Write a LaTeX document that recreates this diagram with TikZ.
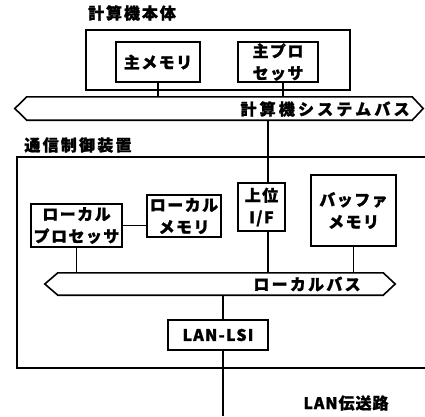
\documentclass[tikz,border=0pt]{standalone}
\usepackage{fontspec}
\newfontfamily\jp[FakeBold=1.2]{Noto Sans CJK JP}
\newcommand\jpfont[1]{\jp\bfseries\fontsize{16}{22}\selectfont\addfontfeature{LetterSpace=#1}}
\tikzset{
  box/.style={draw, line width=1.6pt, inner sep=0pt, align=center, font=\jpfont{9}},
  lbl/.style={inner sep=0pt, font=\jpfont{12}},
  wire/.style={line width=1.6pt},
  busline/.style={line width=1.6pt, line join=miter},
  busarea/.style={inner sep=0pt}
}
\begin{document}
\begin{tikzpicture}[x=1pt,y=-1pt]
\useasboundingbox[fill=white] (0,0) rectangle (425,416);
% computer body
\node[lbl] (bodylbl) at (132,13) {計算機本体};
\node[draw, line width=1.6pt, minimum width=264pt, minimum height=60pt] (body) at (218,60) {};
\node[box, minimum width=84pt, minimum height=40pt] (mem) at (158,62) {主メモリ};
\node[box, minimum width=80pt, minimum height=40pt] (proc) at (278,62) {主プロ\\セッサ};
% system bus
\node[busarea, minimum width=385pt, minimum height=23pt] (sysbus) at (219.5,108.5) {};
\draw[busline] (sysbus.north west) -- (sysbus.north east) -- ([xshift=11pt]sysbus.east)
  -- (sysbus.south east) -- (sysbus.south west) -- ([xshift=-12pt]sysbus.west) -- cycle;
\node[lbl, font=\jpfont{20}] (sysbuslbl) at (325,109) {計算機システムバス};
\coordinate (procx) at (283,0);
\coordinate (ifx) at (268,0);
\coordinate (lanx) at (223,0);
\draw[wire] (mem.south) -- (mem.south |- sysbus.north);
\draw[wire] (proc.south -| procx) -- (sysbus.north -| procx);
% communication controller
\node[lbl, font=\jpfont{14}] (ctrllbl) at (78,145) {通信制御装置};
\coordinate (ctrlTR) at (425,157);
\coordinate (ctrlTL) at (17,157);
\coordinate (ctrlBL) at (17,368);
\coordinate (ctrlBR) at (425,368);
\draw[wire, line join=miter] (ctrlTR) -- (ctrlTL) -- (ctrlBL) -- (ctrlBR);
\node[box, minimum width=91pt, minimum height=43pt] (lproc) at (76.5,225.5) {ローカル\\プロセッサ};
\node[box, minimum width=74pt, minimum height=42pt] (lmem) at (184,216) {ローカル\\メモリ};
\node[box, minimum width=47pt, minimum height=48pt] (ifbox) at (261.5,207) {上位\\I/F};
\node[box, minimum width=85pt, minimum height=71pt] (buf) at (353.5,210.5) {バッファ\\メモリ};
% local bus
\node[busarea, minimum width=325pt, minimum height=22pt] (lbus) at (220.5,284) {};
\draw[busline] (lbus.north west) -- (lbus.north east) -- ([xshift=12pt]lbus.east)
  -- (lbus.south east) -- (lbus.south west) -- ([xshift=-13pt]lbus.west) -- cycle;
\node[lbl, font=\jpfont{14}] (lbuslbl) at (307,284) {ローカルバス};
\node[box, font=\jpfont{8}, minimum width=100pt, minimum height=30pt] (lsi) at (218,335) {LAN-LSI};
% connectors
\draw[wire] (sysbus.south -| ifx) -- (ifbox.north -| ifx);
\draw[wire] (ifbox.south -| ifx) -- (lbus.north -| ifx);
\draw[wire] (lproc.east) -- (lproc.east -| lmem.west);
\draw[wire] (lproc.south) -- (lproc.south |- lbus.north);
\draw[wire] (buf.south) -- (buf.south |- lbus.north);
\draw[wire] (lbus.south -| lanx) -- (lsi.north -| lanx);
\coordinate (lanend) at (223,416);
\draw[wire] (lsi.south -| lanx) -- (lanend);
\node[lbl, font=\jpfont{6}] (lanlbl) at (346,403) {LAN伝送路};
\end{tikzpicture}
\end{document}
